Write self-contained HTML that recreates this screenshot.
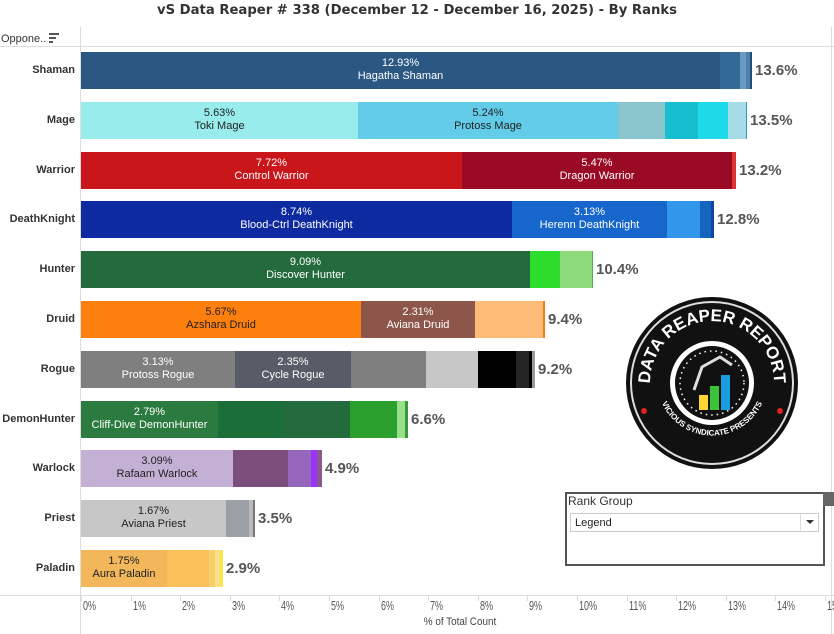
<!DOCTYPE html>
<html><head><style>
body{margin:0;width:834px;height:634px;background:#fff;font-family:"Liberation Sans",Arial,sans-serif;position:relative;overflow:hidden}
.a{position:absolute}
.lbl{position:absolute;right:759px;font-size:11px;font-weight:bold;color:#333;text-align:right;white-space:nowrap}
.seg{position:absolute;height:37px}
.t{position:absolute;font-size:11px;text-align:center;line-height:13px;white-space:nowrap}
.tot{position:absolute;font-size:15px;font-weight:bold;color:#555}
.tk{position:absolute;top:599px;font-size:12.5px;color:#555;transform:scaleX(0.72);transform-origin:left top}
.gl{position:absolute;top:596px;width:1px;height:5px;background:#ddd}
</style></head><body>
<div class="a" style="left:0;width:834px;top:3px;text-align:center;font-size:13.2px;font-weight:bold;color:#333;font-family:'DejaVu Sans',sans-serif">vS Data Reaper # 338 (December 12 - December 16, 2025) - By Ranks</div>
<div class="a" style="left:1px;top:33px;font-size:11px;color:#333">Oppone..</div>
<div class="a" style="left:49px;top:33px;width:10px;height:2px;background:#555"></div>
<div class="a" style="left:49px;top:37px;width:7px;height:2px;background:#555"></div>
<div class="a" style="left:49px;top:41px;width:4px;height:2px;background:#555"></div>
<div class="a" style="left:0;top:46px;width:834px;height:1px;background:#ddd"></div>
<div class="a" style="left:80px;top:27px;width:1px;height:607px;background:#ddd"></div>
<div class="a" style="left:831px;top:27px;width:1px;height:607px;background:#ddd"></div>
<div class="a" style="left:0;top:595px;width:834px;height:1px;background:#ddd"></div>
<div id="c"></div>
<div class="a" style="left:80px;top:616px;width:760px;text-align:center;font-size:11px;color:#444;transform:scaleX(0.9)">% of Total Count</div>

<svg class="a" style="left:624px;top:295px" width="176" height="176" viewBox="0 0 176 176">
<defs><path id="tp" d="M29.7,109.2 A62,62 0 1 1 146.3,109.2"/><path id="bp" d="M34,96 A55,55 0 0 0 142,96"/></defs>
<circle cx="88" cy="88" r="86" fill="#111"/>
<circle cx="88" cy="88" r="81" fill="none" stroke="#ddd" stroke-width="2"/>
<circle cx="88" cy="88" r="42" fill="#fff"/>
<circle cx="88" cy="88" r="37" fill="#111"/>
<circle cx="88" cy="88" r="32" fill="none" stroke="#fff" stroke-width="1.5" stroke-dasharray="1.5 4"/>
<text font-size="17" font-weight="bold" fill="#fff" font-family="Liberation Sans"><textPath href="#tp" startOffset="50%" text-anchor="middle">DATA REAPER REPORT</textPath></text>
<text font-size="8" font-weight="bold" fill="#fff"><textPath href="#bp" startOffset="50%" text-anchor="middle">VICIOUS SYNDICATE PRESENTS</textPath></text>
<rect x="75" y="100" width="9" height="15" fill="#fcd631"/><rect x="86" y="91" width="9" height="24" fill="#3bc43b"/><rect x="97" y="80" width="9" height="35" fill="#1a9de0"/>
<path d="M70,95 L78,72 L96,62 L108,70" fill="none" stroke="#ddd" stroke-width="3"/>
<circle cx="20" cy="116" r="3" fill="#d22"/><circle cx="156" cy="116" r="3" fill="#d22"/>
</svg>

<div class="a" style="left:565px;top:492px;width:260px;height:74px;border:2px solid #555;box-sizing:border-box"></div>
<div class="a" style="left:568px;top:494px;font-size:12px;color:#333">Rank Group</div>
<div class="a" style="left:570px;top:513px;width:249px;height:19px;border:1px solid #ccc;box-sizing:border-box;font-size:11px;color:#222;padding:3px 0 0 4px">Legend</div>
<div class="a" style="left:800px;top:514px;width:1px;height:17px;background:#ddd"></div>
<div class="a" style="left:806px;top:520px;width:0;height:0;border-left:4px solid transparent;border-right:4px solid transparent;border-top:4px solid #333"></div>
<div class="a" style="left:823px;top:492px;width:11px;height:14px;background:#666"></div>

<script>
const rows=[
["Shaman",[[720,"#2b5783","12.93%","Hagatha Shaman","#fff"],[740,"#336a95"],[746,"#6a9ac4"],[750,"#4f7fae"],[752,"#1f4e79"]],"13.6%"],
["Mage",[[358,"#98eceb","5.63%","Toki Mage","#222"],[618,"#63cde9","5.24%","Protoss Mage","#222"],[665,"#8bc6cf"],[698,"#17bed0"],[728,"#1ed9e8"],[746,"#a6dce8"],[747,"#2aa0b8"]],"13.5%"],
["Warrior",[[462,"#c9161b","7.72%","Control Warrior","#fff"],[732,"#9b0a25","5.47%","Dragon Warrior","#fff"],[736,"#dd3333"]],"13.2%"],
["DeathKnight",[[512,"#0e2aa0","8.74%","Blood-Ctrl DeathKnight","#fff"],[667,"#1666cc","3.13%","Herenn DeathKnight","#fff"],[700,"#3296ea"],[711,"#1565c0"],[714,"#0d47a1"]],"12.8%"],
["Hunter",[[530,"#236b3c","9.09%","Discover Hunter","#fff"],[560,"#2ddd2d"],[592,"#8edb7b"],[593,"#5a5"]],"10.4%"],
["Druid",[[361,"#fd7f0e","5.67%","Azshara Druid","#222"],[475,"#8c564b","2.31%","Aviana Druid","#fff"],[543,"#ffbb78"],[545,"#f07f10"]],"9.4%"],
["Rogue",[[235,"#7f7f7f","3.13%","Protoss Rogue","#fff"],[351,"#585c66","2.35%","Cycle Rogue","#fff"],[426,"#7f7f7f"],[478,"#c7c7c7"],[516,"#000"],[529,"#252525"],[532,"#000"],[535,"#999"]],"9.2%"],
["DemonHunter",[[218,"#2b7a40","2.79%","Cliff-Dive DemonHunter","#fff"],[284,"#1b6e38"],[350,"#236b3c"],[397,"#2ca02c"],[405,"#98df8a"],[408,"#3a9a3a"]],"6.6%"],
["Warlock",[[233,"#c5b0d5","3.09%","Rafaam Warlock","#222"],[288,"#7b4e7b"],[311,"#9467bd"],[317,"#9a33ff"],[322,"#8a5a8a"]],"4.9%"],
["Priest",[[226,"#c7c7c7","1.67%","Aviana Priest","#222"],[249,"#9aa0a5"],[253,"#bbb"],[255,"#777"]],"3.5%"],
["Paladin",[[167,"#f2b75a","1.75%","Aura Paladin","#222"],[209,"#fbc05a"],[215,"#f5d06a"],[220,"#f8e08a"],[223,"#ffe54a"]],"2.9%"]];
let h="";
rows.forEach((r,i)=>{const top=52+i*49.8;let s=81;
h+=`<div class="lbl" style="top:${top+12}px">${r[0]}</div>`;
r[1].forEach(g=>{h+=`<div class="seg" style="left:${s}px;top:${top}px;width:${g[0]-s}px;background:${g[1]}"></div>`;
if(g[2])h+=`<div class="t" style="left:${s}px;width:${g[0]-s}px;top:${top+5}px;color:${g[4]}">${g[2]}<br>${g[3]}</div>`;s=g[0];});
h+=`<div class="tot" style="left:${s+3}px;top:${top+10}px">${r[2]}</div>`;});
for(let k=0;k<=15;k++){const x=81+k*49.6;h+=`<div class="gl" style="left:${x}px"></div><div class="tk" style="left:${x+2}px">${k}%</div>`;}
document.getElementById("c").innerHTML=h;
</script>
</body></html>
